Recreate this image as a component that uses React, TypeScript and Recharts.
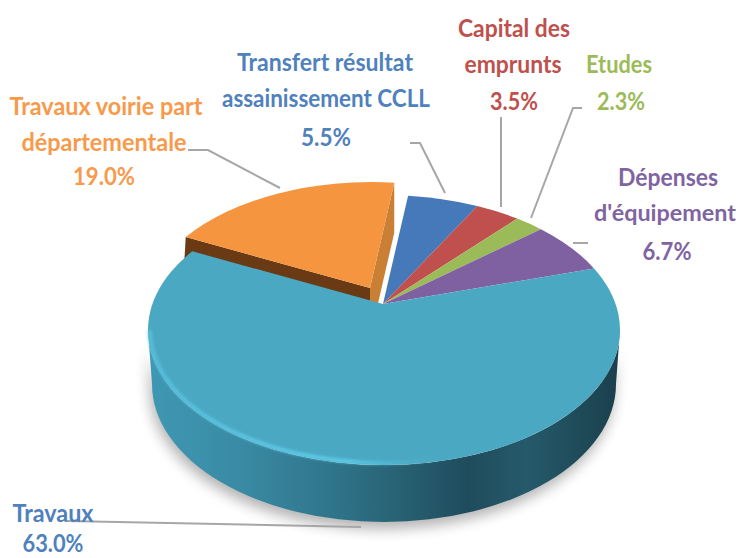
import React from "react";
import { PieChart, Pie } from "recharts";

const categories = ["Travaux voirie part départementale", "Transfert résultat assainissement CCLL", "Capital des emprunts", "Etudes", "Dépenses d'équipement", "Travaux"];
const shares = [19.0, 5.5, 3.5, 2.3, 6.7, 63.0];
const colours = ["#F5953F", "#4579BA", "#C0504D", "#9BBB59", "#7F60A0", "#4BA8C3"];
const textColours = ["#F79A4B", "#4F81BD", "#BE504D", "#9BBB59", "#8064A2", "#4F81BD"];
const labelLines = [
  ["Travaux voirie part", "départementale"],
  ["Transfert résultat", "assainissement CCLL"],
  ["Capital des", "emprunts"],
  ["Etudes"],
  ["Dépenses", "d'équipement"],
  ["Travaux"],
];

// label layout: [centre x, mid y, width, font size] of each text row
const labelRows = [
  [[106, 105, 193, 25], [104, 141, 165, 25], [104, 175, 62, 25]],
  [[325, 61, 176, 25], [326, 97, 208, 25], [326, 136, 50, 25]],
  [[514, 27, 112, 25], [513, 63, 97, 25], [514, 100, 48, 25]],
  [[619, 63, 66, 25], [621, 100, 48, 25]],
  [[668, 176, 100, 25], [665, 212, 142, 23], [667, 250, 49, 25]],
  [[53, 512, 81, 25], [53, 542, 61, 25]],
];
const leaderLines = [
  "188,150 208,150 280,188",
  "410,143 420,143 445,193",
  "501,117 501,207",
  "582,108 573,108 531,218",
  "573,243 588,243",
  "67,521 361,527",
];

const data = categories.map((name, i) => ({ name, value: shares[i] }));

const RY = 135 / 236;
const warp = (a: number) => {
  const n = ((a % 360) + 360) % 360;
  return 28 + 0.88 * ((n < 27 ? n + 360 : n) - 28);
};

function Slice(props: any) {
  const { cx, cy, outerRadius, startAngle, endAngle, fill, index } = props;
  const isOrange = index === 0;
  const isMain = index === 5;
  const r = isOrange ? outerRadius - 8 : outerRadius;
  const ry = isOrange ? outerRadius * RY - 3 : outerRadius * RY;
  const dx = isOrange ? -13 : 0;
  const dy = isOrange ? -16 : 0;
  const pt = (deg: number) => {
    const t = (warp(deg) * Math.PI) / 180;
    return [cx + dx + r * Math.cos(t), cy + dy - ry * Math.sin(t)];
  };
  const ax = cx - 1 + dx;
  const ay = cy - 26 + dy;
  const s = pt(startAngle);
  const e = pt(endAngle);
  const large = startAngle - endAngle > 180 ? 1 : 0;
  const top = `M${ax},${ay} L${s[0]},${s[1]} A${r},${ry} 0 ${large} 1 ${e[0]},${e[1]} Z`;

  if (isOrange) {
    const d = 50;
    return (
      <g>
        <path d={`M${e[0]},${e[1]} L${ax},${ay} L${ax},${ay + d} L${e[0]},${e[1] + d} Z`} fill="#C98034" />
        <path d={`M${s[0]},${s[1]} L${ax},${ay} L${ax},${ay + d} L${s[0] - 3},${s[1] + d} Z`} fill="#6A3A14" />
        <path d={top} fill={fill} />
      </g>
    );
  }
  if (isMain) {
    const lx = cx - r, rx = cx + r;
    const bx = 232, by = 138, bcy = cy + 54;
    const wall = `M${lx},${cy} A${r},${ry} 0 0 0 ${rx},${cy} L${cx + bx},${bcy} A${bx},${by} 0 0 1 ${cx - bx},${bcy} Z`;
    return (
      <g>
        <defs>
          <linearGradient id="wallFill" gradientUnits="userSpaceOnUse" x1={lx} x2={rx} y1="0" y2="0">
            <stop offset="0" stopColor="#3F98B3" />
            <stop offset="0.2" stopColor="#398AA4" />
            <stop offset="0.42" stopColor="#2E7186" />
            <stop offset="0.68" stopColor="#1F4C5C" />
            <stop offset="0.8" stopColor="#255A6B" />
            <stop offset="0.93" stopColor="#1E4957" />
            <stop offset="1" stopColor="#1B3F4C" />
          </linearGradient>
          <linearGradient id="rimFill" gradientUnits="userSpaceOnUse" x1={lx} x2={rx} y1="0" y2="0">
            <stop offset="0" stopColor="#58C0DC" />
            <stop offset="0.42" stopColor="#62D2EE" />
            <stop offset="0.65" stopColor="#4BA8C3" stopOpacity="0" />
            <stop offset="1" stopColor="#4BA8C3" stopOpacity="0" />
          </linearGradient>
          <filter id="softBlur" x="-10%" y="-10%" width="120%" height="130%">
            <feGaussianBlur stdDeviation="7" />
          </filter>
          <filter id="rimBlur" x="-5%" y="-10%" width="110%" height="120%">
            <feGaussianBlur stdDeviation="1.4" />
          </filter>
        </defs>
        <path d={wall} fill="#000" opacity={0.3} filter="url(#softBlur)" transform="translate(-2,7)" />
        <path d={wall} fill="url(#wallFill)" />
        <path d={top} fill={fill} />
        <path
          d={`M${lx + 2},${cy} A${r - 2},${ry - 2} 0 0 0 ${rx - 2},${cy}`}
          fill="none"
          stroke="url(#rimFill)"
          strokeWidth={3.5}
          filter="url(#rimBlur)"
        />
      </g>
    );
  }
  return <path d={top} fill={fill} />;
}

function Callout(props: any) {
  const { index } = props;
  const rows = [...labelLines[index], `${shares[index].toFixed(1)}%`];
  return (
    <g>
      <polyline points={leaderLines[index]} fill="none" stroke="#A6A6A6" strokeWidth={2} />
      {rows.map((row, i) => (
        <text
          key={row}
          x={labelRows[index][i][0]}
          y={labelRows[index][i][1]}
          dominantBaseline="central"
          textAnchor="middle"
          textLength={labelRows[index][i][2]}
          lengthAdjust="spacingAndGlyphs"
          fontFamily="Lato, 'Open Sans', sans-serif"
          fontWeight={700}
          fontSize={labelRows[index][i][3]}
          fill={textColours[index]}
        >
          {row}
        </text>
      ))}
    </g>
  );
}

export default function App() {
  return (
    <div style={{ position: "absolute", left: 0, top: 0, width: 742, height: 558 }}>
      <PieChart width={742} height={558} margin={{ top: 0, right: 0, bottom: 0, left: 0 }}>
        <Pie
          data={data.map((d, i) => ({ ...d, fill: colours[i] }))}
          dataKey="value"
          nameKey="name"
          cx={384}
          cy={330}
          innerRadius={0}
          outerRadius={236}
          startAngle={160.2}
          endAngle={-199.8}
          stroke="none"
          isAnimationActive={false}
          shape={Slice}
          label={Callout}
          labelLine={false}
        />
      </PieChart>
    </div>
  );
}
